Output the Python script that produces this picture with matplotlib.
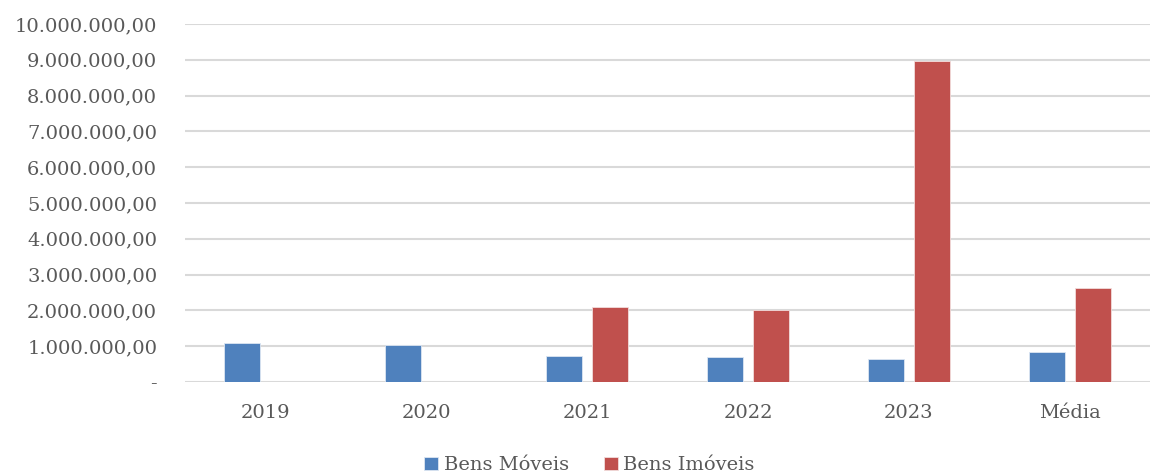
import numpy as np
import matplotlib.pyplot as plt
from matplotlib.ticker import FuncFormatter

categories = ["2019", "2020", "2021", "2022", "2023", "Média"]
bens_moveis = [1090000, 1040000, 730000, 700000, 635000, 839000]
bens_imoveis = [0, 0, 2090000, 2020000, 8970000, 2616000]

plt.rcParams['font.family'] = ['DejaVu Serif']
text_color = "#595959"


def br_fmt(v, pos):
    if v == 0:
        return "-"
    s = f"{v:,.2f}"
    return s.replace(",", "X").replace(".", ",").replace("X", ".")


fig = plt.figure(figsize=(11.56, 4.75), dpi=100)
ax = fig.add_axes([0.16, 0.196, 0.835, 0.7535])

x = np.arange(len(categories))
w = 0.225
off = 0.143
ax.bar(x - off, bens_moveis, w, color="#4f81bd", edgecolor="#dce6f2", linewidth=0.6,
       label="Bens Móveis", zorder=3)
imov_h = [v if v > 0 else np.nan for v in bens_imoveis]
ax.bar(x + off, imov_h, w, color="#c0504d", edgecolor="#f2dcdb", linewidth=0.6,
       label="Bens Imóveis", zorder=3)

ax.set_ylim(0, 10000000)
ax.set_xlim(-0.5, len(categories) - 0.5)
ax.set_yticks(np.arange(0, 10000001, 1000000))
ax.yaxis.set_major_formatter(FuncFormatter(br_fmt))
ax.set_xticks(x)
ax.set_xticklabels(categories)
ax.grid(axis='y', color="#d9d9d9", linewidth=1.5, zorder=0)
ax.set_axisbelow(True)
for s in ax.spines.values():
    s.set_visible(False)
ax.tick_params(axis='both', length=0, labelsize=14, colors=text_color)
ax.tick_params(axis='y', pad=20)
ax.tick_params(axis='x', pad=16)

leg = fig.legend(loc='lower center', bbox_to_anchor=(0.51, -0.035), ncol=2, frameon=False,
                 fontsize=14, handlelength=0.7, handleheight=0.7, handletextpad=0.3,
                 columnspacing=1.8)
for t in leg.get_texts():
    t.set_color(text_color)

fig.savefig("out.png", dpi=100)
